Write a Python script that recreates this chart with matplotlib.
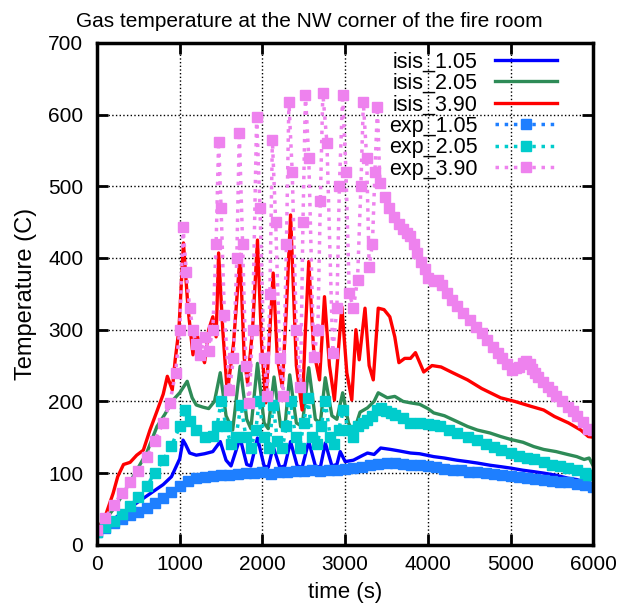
import numpy as np
import matplotlib.pyplot as plt

plt.rcParams['font.family'] = ['Liberation Sans', 'DejaVu Sans']

# isis_1.05
t_isis1 = [0, 100, 200, 300, 400, 500, 600, 700, 800, 900, 1000, 1040, 1070, 1120, 1200, 1300, 1400,
           1490, 1560, 1620, 1730, 1810, 1860, 1940, 2020, 2070, 2130, 2210, 2270, 2340, 2420, 2480,
           2560, 2640, 2700, 2760, 2840, 2900, 2940, 3000, 3100, 3200, 3270, 3350, 3430, 3550, 3650,
           3790, 3900, 4070, 4200, 4350, 4480, 4600, 4750, 4880, 5000, 5150, 5280, 5400, 5550, 5690,
           5800, 5940, 6000]
T_isis1 = [20, 28, 36, 44, 52, 60, 68, 76, 84, 95, 120, 146, 140, 128, 125, 127, 130,
           144, 118, 110, 149, 112, 110, 149, 110, 108, 137, 108, 110, 144, 110, 108,
           144, 110, 108, 142, 110, 112, 130, 116, 118, 124, 128, 126, 135, 133, 131,
           128, 127, 123, 121, 118, 116, 114, 111, 109, 107, 104, 102, 100, 97, 93,
           91, 86, 84]

# isis_2.05
t_isis2 = [0, 100, 200, 300, 435, 600, 725, 820, 920, 1000, 1090, 1150, 1200, 1280, 1350, 1420,
           1490, 1560, 1640, 1730, 1810, 1860, 1940, 2020, 2070, 2140, 2220, 2270, 2330, 2410, 2480,
           2560, 2640, 2700, 2760, 2840, 2900, 2970, 3040, 3100, 3180, 3270, 3350, 3400, 3510, 3600,
           3700, 3790, 3900, 4000, 4070, 4200, 4350, 4480, 4600, 4750, 4880, 5000, 5150, 5280, 5400,
           5550, 5690, 5800, 5890, 5950, 6000]
T_isis2 = [20, 35, 50, 68, 95, 128, 165, 182, 202, 212, 228, 205, 195, 192, 190, 200,
           240, 180, 160, 249, 175, 162, 253, 170, 162, 234, 165, 162, 237, 170, 165,
           247, 175, 170, 233, 180, 175, 212, 170, 156, 185, 191, 200, 212, 205, 207,
           200, 198, 196, 190, 184, 180, 172, 165, 160, 156, 151, 147, 143, 137, 133,
           130, 126, 123, 119, 121, 110]

# isis_3.90
t_isis3 = [0, 100, 195, 250, 320, 400, 480, 560, 640, 730, 800, 850, 910, 945, 990, 1045, 1100,
           1160, 1200, 1250, 1300, 1350, 1400, 1440, 1470, 1520, 1575, 1650, 1730, 1780, 1820, 1880,
           1940, 1990, 2040, 2090, 2130, 2180, 2240, 2290, 2340, 2410, 2480, 2520, 2560, 2620, 2690,
           2750, 2810, 2870, 2960, 3020, 3080, 3130, 3170, 3240, 3290, 3340, 3400, 3470, 3540, 3600,
           3650, 3720, 3790, 3850, 3950, 4050, 4160, 4300, 4480, 4650, 4880, 5050, 5250, 5400, 5530,
           5700, 5850, 5940, 6000]
T_isis3 = [20, 40, 72, 95, 112, 115, 125, 132, 160, 188, 210, 235, 216, 258, 300, 421, 330,
           265, 300, 270, 254, 300, 318, 290, 407, 300, 212, 280, 405, 260, 226, 300,
           425, 280, 198, 300, 379, 260, 220, 330, 460, 250, 188, 300, 395, 270, 230,
           346, 250, 202, 332, 240, 202, 300, 258, 330, 250, 230, 330, 328, 318, 290,
           254, 260, 260, 268, 241, 250, 248, 240, 230, 218, 205, 200, 193, 188, 179,
           170, 160, 151, 150]

# exp_1.05
t_exp1 = list(range(0, 6001, 100))
T_exp1 = [18, 24, 30, 36, 42, 46, 52, 58, 65, 73, 82, 89, 93, 94, 96, 97, 98, 99, 100, 100,
          101, 99, 102, 101, 103, 103, 104, 103, 105, 104, 106, 107, 109, 111, 113, 114, 114, 113,
          112, 111, 110, 108, 106, 105, 104, 102, 101, 100, 99, 97, 96, 94, 93, 92, 91, 89, 88,
          87, 85, 83, 81]

# exp_2.05
t_exp2 = [0, 100, 200, 300, 400, 500, 600, 700, 800, 900, 1000, 1060, 1120, 1200, 1300, 1400,
          1450, 1500, 1560, 1620, 1680, 1740, 1800, 1860, 1920, 1960, 2020, 2080, 2130, 2180, 2240,
          2290, 2340, 2400, 2450, 2500, 2550, 2600, 2660, 2710, 2760, 2820, 2870, 2920, 2980, 3040,
          3100, 3160, 3220, 3270, 3330, 3380, 3430, 3490, 3550, 3600, 3700, 3790, 3900, 4000, 4070,
          4150, 4250, 4350, 4480, 4600, 4700, 4800, 4880, 5000, 5100, 5200, 5280, 5400, 5500, 5600,
          5690, 5800, 5900, 5940, 6000]
T_exp2 = [18, 25, 33, 43, 54, 66, 82, 100, 118, 138, 165, 188, 172, 160, 150, 152,
          165, 200, 165, 140, 150, 195, 150, 135, 160, 200, 150, 135, 195, 145, 135,
          165, 200, 150, 135, 170, 205, 150, 140, 165, 200, 150, 140, 160, 188, 160,
          151, 165, 170, 174, 180, 188, 191, 186, 184, 181, 177, 170, 170, 168, 167,
          165, 160, 156, 151, 146, 141, 137, 132, 128, 124, 121, 119, 115, 112, 110,
          107, 104, 100, 98, 97]

# exp_3.90
t_exp3 = [0, 100, 200, 300, 400, 500, 600, 700, 800, 880, 950, 1000, 1040, 1080, 1120, 1160,
          1200, 1250, 1300, 1350, 1400, 1440, 1470, 1500, 1540, 1600, 1650, 1690, 1720, 1760, 1800,
          1840, 1880, 1930, 1970, 2020, 2060, 2090, 2120, 2160, 2210, 2250, 2290, 2320, 2360, 2410,
          2460, 2490, 2520, 2560, 2620, 2670, 2700, 2730, 2780, 2850, 2900, 2930, 2970, 3010, 3050,
          3100, 3150, 3190, 3220, 3260, 3290, 3330, 3360, 3390, 3420, 3480, 3530, 3590, 3650, 3700,
          3750, 3790, 3830, 3870, 3920, 3960, 4000, 4070, 4120, 4170, 4230, 4290, 4350, 4430, 4510,
          4580, 4650, 4720, 4790, 4850, 4900, 4960, 5020, 5060, 5100, 5150, 5190, 5230, 5260, 5300,
          5330, 5390, 5450, 5500, 5550, 5620, 5700, 5750, 5800, 5870, 5940, 6000]
T_exp3 = [20, 38, 55, 72, 88, 103, 122, 145, 170, 198, 240, 300, 443, 380, 330, 300,
          280, 265, 290, 270, 300, 420, 562, 470, 320, 216, 260, 400, 575, 420, 250,
          198, 300, 596, 470, 260, 207, 350, 565, 450, 260, 207, 420, 618, 520, 300,
          220, 450, 628, 540, 262, 300, 480, 630, 560, 268, 330, 500, 628, 520, 351,
          330, 370, 500, 617, 540, 388, 420, 520, 610, 505, 485, 470, 457, 448, 440,
          435, 430, 420, 407, 395, 385, 372, 368, 370, 362, 351, 342, 333, 323, 314,
          304, 295, 285, 276, 268, 260, 252, 244, 246, 248, 253, 257, 252, 245, 240,
          234, 227, 220, 214, 208, 200, 192, 186, 180, 171, 162, 160]

fig = plt.figure(figsize=(6.18, 6.04), dpi=100)
ax = fig.add_axes([0.157, 0.098, 0.803, 0.831])

ax.plot(t_isis1, T_isis1, color='#0000ff', lw=2.4, label='isis_1.05')
ax.plot(t_isis2, T_isis2, color='#2e8b57', lw=2.4, label='isis_2.05')
ax.plot(t_isis3, T_isis3, color='#ff0000', lw=2.4, label='isis_3.90')
ax.plot(t_exp1, T_exp1, color='#1e7fff', lw=2.5, ls=':', marker='s', ms=6.5, label='exp_1.05')
ax.plot(t_exp2, T_exp2, color='#00cccc', lw=2.5, ls=':', marker='s', ms=6.5, label='exp_2.05')
ax.plot(t_exp3, T_exp3, color='#ee82ee', lw=2.5, ls=':', marker='s', ms=6.5, label='exp_3.90')

ax.set_xlim(0, 6000)
ax.set_ylim(0, 700)
ax.set_xticks(np.arange(0, 6001, 1000))
ax.set_yticks(np.arange(0, 701, 100))
ax.grid(True, color='black', ls=':', lw=1)
ax.tick_params(direction='in', length=8, width=2, labelsize=15, top=True, right=True, pad=7)
ax.tick_params(axis='y', pad=10)
for s in ax.spines.values():
    s.set_linewidth(2.5)

fig.text(0.5, 0.965, 'Gas temperature at the NW corner of the fire room', fontsize=15,
         ha='center', va='center')
ax.set_xlabel('time (s)', fontsize=16, labelpad=6)
ax.set_ylabel('Temperature (C)', fontsize=17, labelpad=8)

ax.legend(loc='upper right', frameon=False, markerfirst=False, numpoints=1,
          fontsize=15.5, handlelength=2.9, labelspacing=0.02, borderaxespad=0.3,
          borderpad=0.1, handletextpad=0.8, bbox_to_anchor=(0.945, 1.0))

plt.savefig('out.png', dpi=100)
